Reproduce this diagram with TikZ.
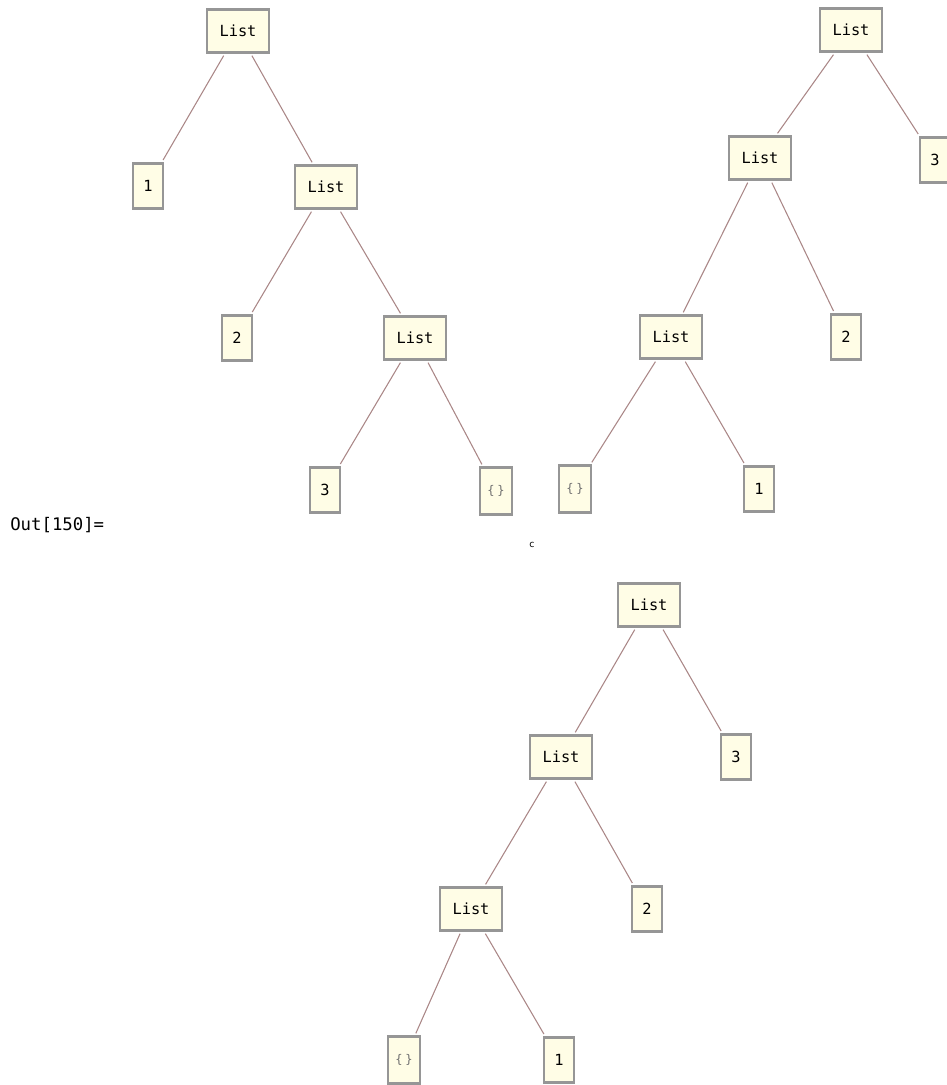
\documentclass[tikz,border=0pt]{standalone}
\usepackage{fontspec}
\newfontfamily\monof{DejaVu Sans Mono}
\newfontfamily\sansf{DejaVu Sans}
\definecolor{boxfill}{RGB}{255,253,230}
\definecolor{boxdraw}{RGB}{150,150,150}
\definecolor{edgecol}{RGB}{170,135,135}
\definecolor{emptycol}{RGB}{110,110,110}
\begin{document}
\begin{tikzpicture}[x=0.75pt,y=-0.75pt,
  tnode/.style={draw=boxdraw,fill=boxfill,line width=1.9pt,font=\monof\fontsize{11.5}{13}\selectfont,minimum height=33pt,inner sep=0pt,outer sep=2.5pt},
  listbox/.style={tnode,minimum width=46.5pt,minimum height=32pt},
  leafbox/.style={tnode,minimum width=22.5pt,minimum height=34pt},
  emptybox/.style={leafbox,minimum width=24pt,minimum height=35pt,font=\monof\fontsize{9}{10}\selectfont,text=emptycol},
  edge/.style={draw=edgecol,line width=0.8pt}]
\useasboundingbox (0,0) rectangle (946,1085);
% Tree 1
\node[listbox] (a0) at (238,31) {List};
\node[leafbox] (a1) at (148,186) {1};
\node[listbox] (a2) at (326,187) {List};
\node[leafbox] (a3) at (237,338) {2};
\node[listbox] (a4) at (415,338) {List};
\node[leafbox] (a5) at (325,490) {3};
\node[emptybox] (a6) at (496,491) {\{\hspace{2pt}\}};
\draw[edge] (a0) -- (a1); \draw[edge] (a0) -- (a2);
\draw[edge] (a2) -- (a3); \draw[edge] (a2) -- (a4);
\draw[edge] (a4) -- (a5); \draw[edge] (a4) -- (a6);
% Tree 2
\node[listbox] (b0) at (851,30) {List};
\node[listbox] (b1) at (760,158) {List};
\node[leafbox] (b2) at (935,160) {3};
\node[listbox] (b3) at (671,337) {List};
\node[leafbox] (b4) at (846,337) {2};
\node[emptybox] (b5) at (575,489) {\{\hspace{2pt}\}};
\node[leafbox] (b6) at (759,489) {1};
\draw[edge] (b0) -- (b1); \draw[edge] (b0) -- (b2);
\draw[edge] (b1) -- (b3); \draw[edge] (b1) -- (b4);
\draw[edge] (b3) -- (b5); \draw[edge] (b3) -- (b6);
% labels
\node[anchor=west,inner sep=0pt,font=\monof\fontsize{13}{15}\selectfont] (out) at (10,525) {Out[150]=};
\node[inner sep=0pt,font=\sansf\fontsize{7}{8}\selectfont] (c) at (532,545) {c};
% Tree 3
\node[listbox] (c0) at (649,605) {List};
\node[listbox] (c1) at (561,757) {List};
\node[leafbox] (c2) at (736,757) {3};
\node[listbox] (c3) at (471,909) {List};
\node[leafbox] (c4) at (647,909) {2};
\node[emptybox] (c5) at (404,1060) {\{\hspace{2pt}\}};
\node[leafbox] (c6) at (559,1060) {1};
\draw[edge] (c0) -- (c1); \draw[edge] (c0) -- (c2);
\draw[edge] (c1) -- (c3); \draw[edge] (c1) -- (c4);
\draw[edge] (c3) -- (c5); \draw[edge] (c3) -- (c6);
\end{tikzpicture}
\end{document}
